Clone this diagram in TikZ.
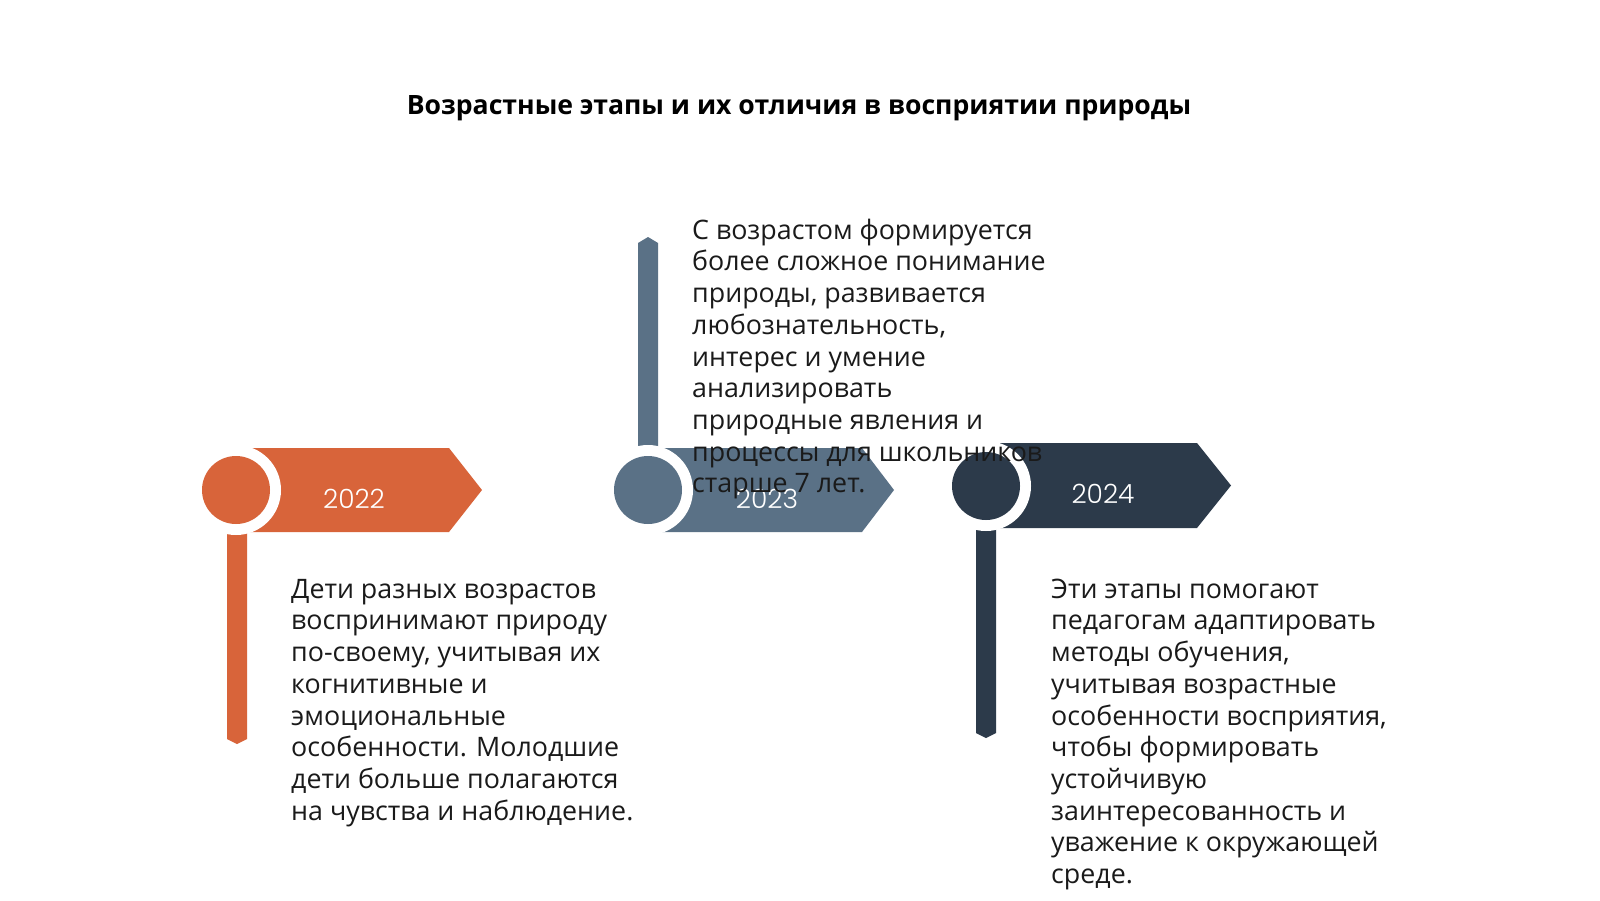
\documentclass[tikz,border=0pt]{standalone}
\usepackage{fontspec}
\setmainfont{Open Sans}
\newfontfamily\yearfont{Poppins Light}
\definecolor{cOrange}{HTML}{D8643A}
\definecolor{cSlate}{HTML}{5A7186}
\definecolor{cNavy}{HTML}{2C3A4A}
\definecolor{cText}{HTML}{1A1A1A}
\tikzset{
  body/.style={font=\fontsize{26.8}{31.7}\selectfont, align=left, inner sep=0pt, anchor=north west, text=cText},
  yearlbl/.style={font=\yearfont\fontsize{26.5}{30}\selectfont, text=white, inner sep=0pt, anchor=base},
  titlelbl/.style={font=\bfseries\fontsize{26.6}{30}\selectfont, text=black, inner sep=0pt, anchor=base}
}
\begin{document}
\begin{tikzpicture}[x=1pt,y=-1pt]
\useasboundingbox (0,0) rectangle (1600,900);
\fill[white] (0,0) rectangle (1600,900);
% title
\node[titlelbl] (title) at (799,114) {Возрастные этапы и их отличия в восприятии природы};
% bars
\fill[cOrange] (227,490) -- (247,490) -- (247,739) -- (237,744) -- (227,739) -- cycle;
\fill[cSlate] (638,490) -- (638,243) -- (648,237) -- (658,243) -- (658,490) -- cycle;
\fill[cNavy] (976,486) -- (996,486) -- (996,733) -- (986,738) -- (976,733) -- cycle;
% banners
\fill[cOrange] (236,448) -- (449,448) -- (482,490) -- (449,532) -- (236,532) -- cycle;
\fill[cSlate] (648,448) -- (862,448) -- (894,490) -- (862,532) -- (648,532) -- cycle;
\fill[cNavy] (986,443) -- (1197,443) -- (1231,485.5) -- (1197,528) -- (986,528) -- cycle;
% rings and circles
\fill[white] (236,490) circle[radius=45];
\fill[cOrange] (236,490) circle[radius=34];
\fill[white] (648,490) circle[radius=45];
\fill[cSlate] (648,490) circle[radius=34];
\fill[white] (986,486) circle[radius=45];
\fill[cNavy] (986,486) circle[radius=34];
% years
\node[yearlbl] (y1) at (354,508) {2022};
\node[yearlbl] (y2) at (767,508) {2023};
\node[yearlbl] (y3) at (1103,503) {2024};
% texts
\node[body] (t1) at (291,575) {\rule{0pt}{23pt}Дети разных возрастов\\воспринимают природу\\по-своему, учитывая их\\когнитивные и\\эмоциональные\\особенности. Молодшие\\дети больше полагаются\\на чувства и наблюдение.};
\node[body] (t2) at (692,216) {\rule{0pt}{23pt}С возрастом формируется\\более сложное понимание\\природы, развивается\\любознательность,\\интерес и умение\\анализировать\\природные явления и\\процессы для школьников\\старше 7 лет.};
\node[body] (t3) at (1051,575) {\rule{0pt}{23pt}Эти этапы помогают\\педагогам адаптировать\\методы обучения,\\учитывая возрастные\\особенности восприятия,\\чтобы формировать\\устойчивую\\заинтересованность и\\уважение к окружающей\\среде.};
\end{tikzpicture}
\end{document}
